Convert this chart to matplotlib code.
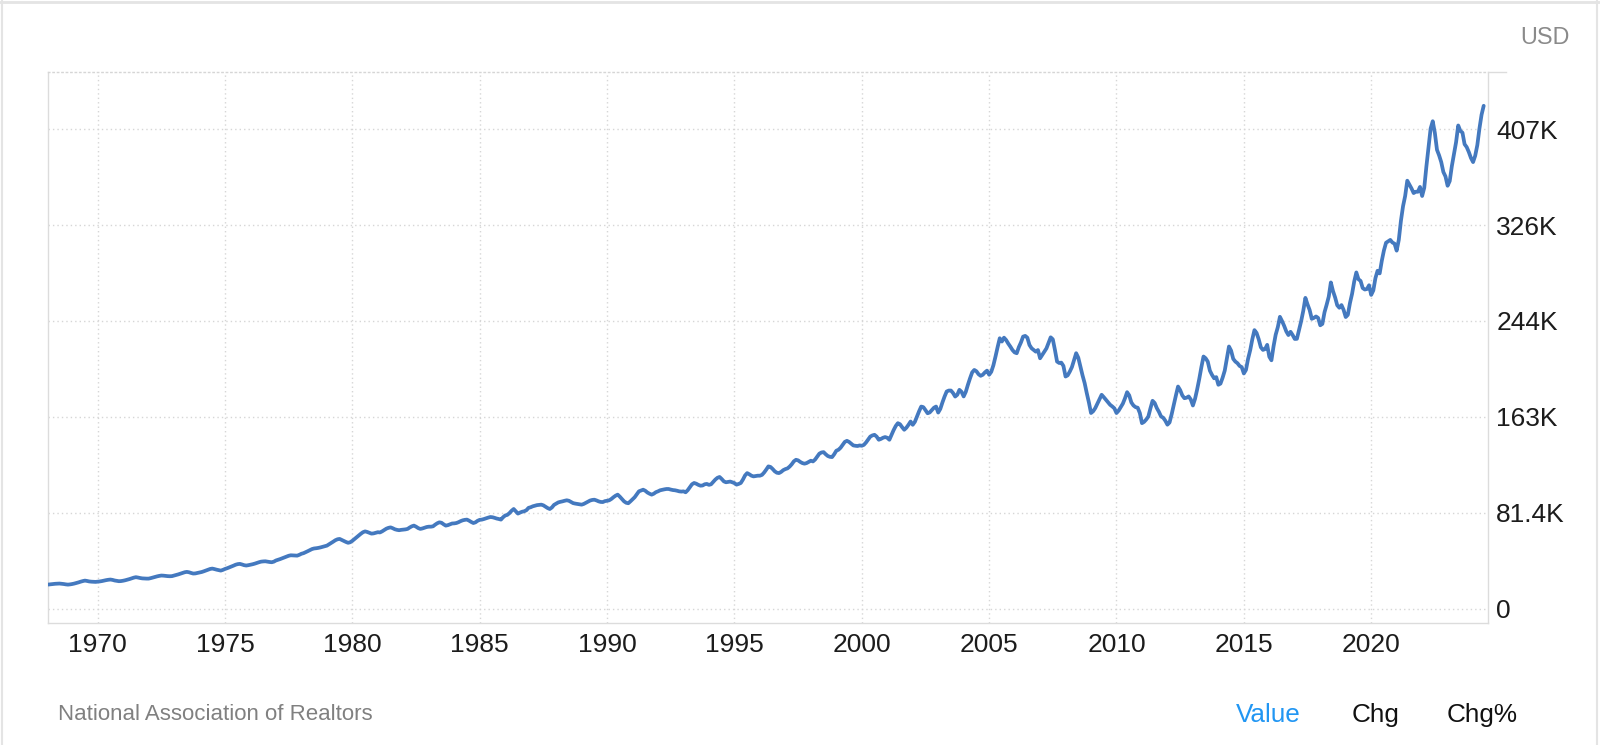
import numpy as np
import matplotlib
matplotlib.use("Agg")
import matplotlib.pyplot as plt
from matplotlib.lines import Line2D

# ---------------- data (median existing-home price, thousands USD, monthly from Jan 1968) ----------------
start_year = 1968

prices_1968_1979 = [
    20.3, 20.4, 20.6, 20.8, 21.0, 21.1, 21.2, 21.0, 20.8, 20.5, 20.3, 20.5,
    20.8, 21.2, 21.7, 22.2, 22.8, 23.3, 23.7, 23.4, 23.0, 22.8, 22.7, 22.6,
    22.8, 23.0, 23.3, 23.7, 24.1, 24.4, 24.6, 24.3, 23.8, 23.5, 23.2, 23.3,
    23.6, 24.0, 24.5, 25.0, 25.6, 26.2, 26.6, 26.3, 25.9, 25.6, 25.5, 25.4,
    25.4, 25.8, 26.3, 26.8, 27.3, 27.7, 28.0, 27.9, 27.7, 27.5, 27.4, 27.5,
    28.0, 28.5, 29.0, 29.6, 30.2, 30.8, 31.1, 30.8, 30.2, 29.7, 29.8, 30.2,
    30.6, 31.0, 31.6, 32.3, 33.0, 33.6, 33.9, 33.5, 33.0, 32.6, 32.2, 32.8,
    33.6, 34.2, 34.9, 35.6, 36.4, 37.2, 37.7, 37.9, 37.4, 36.8, 36.5, 36.8,
    37.2, 37.6, 38.1, 38.7, 39.3, 39.8, 40.0, 40.1, 39.8, 39.5, 39.3, 39.8,
    40.8, 41.4, 42.0, 42.7, 43.4, 44.1, 44.8, 45.2, 45.1, 45.0, 44.9, 45.6,
    46.5, 47.0, 47.8, 48.7, 49.6, 50.5, 51.0, 51.2, 51.5, 51.9, 52.4, 52.9,
    53.4, 54.5, 55.6, 56.8, 58.0, 58.8, 59.1, 58.2, 57.2, 56.5, 55.8, 56.3,
]
prices_1980_1989 = [
    57.5, 59.0, 60.5, 62.0, 63.5, 64.8, 65.5, 65.0, 64.3, 63.6, 63.8, 64.3,
    64.8, 64.6, 65.5, 66.6, 67.8, 68.5, 68.9, 68.2, 67.3, 66.8, 66.5, 66.8,
    67.0, 67.2, 67.6, 68.8, 69.8, 70.4, 69.5, 68.3, 67.6, 68.0, 68.6, 69.2,
    69.5, 69.5, 69.8, 71.2, 72.4, 73.2, 72.8, 71.5, 70.4, 70.8, 71.5, 72.2,
    72.3, 72.6, 73.3, 74.2, 74.9, 75.3, 75.5, 74.6, 73.5, 72.6, 73.2, 74.5,
    75.3, 75.5, 76.0, 76.6, 77.2, 77.7, 77.5, 77.0, 76.4, 76.0, 75.5, 77.5,
    79.0, 79.5, 81.0, 83.0, 84.5, 82.5, 80.6, 81.5, 82.2, 82.6, 83.5, 85.5,
    86.0, 86.8, 87.3, 87.8, 88.0, 88.2, 87.6, 86.5, 85.3, 84.5, 85.8, 88.0,
    89.0, 90.1, 90.6, 91.0, 91.5, 91.9, 91.5, 90.5, 89.5, 89.1, 88.8, 88.5,
    88.2, 88.8, 89.8, 90.8, 91.7, 92.2, 92.4, 91.8, 91.0, 90.5, 90.4, 91.2,
]
prices_1990_1999 = [
    91.5, 91.9, 93.0, 94.5, 95.8, 96.7, 95.0, 93.0, 91.0, 89.8, 89.4, 91.0,
    92.8, 94.5, 97.0, 99.5, 100.2, 100.9, 100.0, 98.5, 97.5, 96.7, 97.5, 98.8,
    99.5, 100.4, 100.8, 101.2, 101.5, 101.5, 101.0, 100.6, 100.4, 100.0, 99.5, 99.3,
    99.5, 98.7, 100.5, 103.0, 105.5, 106.6, 106.0, 105.0, 104.3, 104.5, 105.5, 105.8,
    105.0, 105.5, 107.5, 109.5, 111.0, 111.7, 110.0, 108.0, 107.2, 107.5, 107.8, 107.2,
    106.5, 105.2, 105.8, 106.6, 109.5, 113.0, 115.0, 114.0, 112.8, 112.2, 112.5, 112.8,
    112.8, 113.5, 115.5, 118.0, 120.7, 120.2, 118.5, 116.5, 115.3, 115.0, 116.0, 117.5,
    118.4, 119.0, 120.5, 122.5, 125.0, 126.3, 125.8, 124.5, 123.5, 123.0, 123.5, 124.5,
    125.5, 124.9, 126.5, 129.0, 131.5, 132.5, 132.8, 131.0, 129.5, 128.8, 128.6, 131.0,
    134.0, 134.8, 136.5, 139.0, 141.5, 142.4, 141.5, 140.0, 138.5, 138.2, 138.0, 138.5,
]
prices_2000_2009 = [
    138.2, 139.0, 141.0, 143.5, 146.0, 147.0, 147.5, 146.0, 143.3, 144.0, 145.0, 145.6,
    145.0, 143.3, 147.5, 151.5, 155.0, 157.4, 156.5, 154.0, 151.8, 153.5, 156.0, 158.8,
    156.0, 158.5, 163.0, 167.5, 171.5, 171.0, 168.5, 165.8, 166.5, 168.5, 170.5, 171.5,
    166.4, 169.5, 175.0, 180.0, 184.3, 185.1, 185.1, 183.0, 180.0, 181.5, 185.7, 184.0,
    180.1, 184.0, 190.0, 195.5, 200.5, 202.6, 201.5, 199.0, 197.6, 198.5, 200.5, 202.0,
    198.5, 201.0, 206.5, 214.0, 222.0, 229.5, 226.7, 230.0, 228.0, 225.0, 222.4, 219.5,
    217.5, 216.8, 222.0, 226.0, 230.9, 231.5, 230.0, 223.8, 221.0, 219.6, 218.1, 219.5,
    212.5, 215.3, 218.0, 220.9, 225.5, 230.3, 228.6, 219.6, 209.7, 208.5, 208.8, 206.0,
    197.0, 198.0, 201.2, 205.0, 211.0, 216.8, 213.0, 205.5, 198.0, 191.4, 182.9, 175.0,
    166.0, 167.5, 170.2, 174.0, 178.0, 181.5, 179.5, 177.3, 175.0, 173.0, 171.6, 170.0,
]
prices_2010_2019 = [
    166.0, 168.0, 171.0, 174.0, 178.5, 183.7, 181.0, 175.0, 172.4, 171.0, 170.5, 166.0,
    157.4, 158.5, 160.5, 163.0, 170.0, 176.4, 174.5, 170.2, 167.0, 163.1, 162.0, 159.5,
    156.1, 158.0, 165.0, 173.0, 181.0, 188.5, 185.5, 181.0, 178.6, 179.0, 180.1, 177.5,
    172.4, 178.0, 186.0, 195.0, 205.0, 214.0, 212.5, 209.7, 202.0, 198.4, 195.5, 196.5,
    190.0, 191.0, 196.0, 202.0, 212.0, 222.5, 219.0, 212.0, 209.7, 208.3, 206.0, 205.0,
    199.6, 202.6, 212.1, 219.4, 228.7, 236.4, 234.0, 228.7, 221.9, 219.6, 220.3, 223.9,
    213.8, 210.8, 222.7, 232.5, 238.9, 247.7, 244.1, 240.0, 235.3, 232.2, 235.0, 232.2,
    228.9, 229.0, 236.5, 244.0, 252.8, 263.8, 258.3, 253.5, 246.0, 246.8, 248.0, 246.8,
    240.5, 241.7, 251.5, 257.9, 264.8, 276.9, 269.6, 264.2, 257.5, 255.4, 257.7, 253.6,
    247.5, 249.4, 259.4, 267.3, 277.7, 285.4, 279.6, 278.2, 272.1, 270.9, 271.3, 274.5,
]
prices_2020_2024 = [
    266.3, 270.1, 280.6, 286.8, 284.6, 295.3, 304.1, 310.6, 311.8, 313.0, 310.8, 309.8,
    303.9, 313.0, 329.1, 341.6, 350.3, 363.3, 359.9, 356.7, 352.8, 353.9, 353.9, 358.0,
    350.3, 357.3, 375.3, 391.2, 407.6, 413.8, 403.8, 389.5, 384.8, 379.1, 370.7, 366.9,
    359.0, 363.0, 375.7, 386.1, 396.1, 410.2, 405.6, 404.1, 394.3, 391.8, 387.6, 382.6,
    379.1, 384.5, 393.5, 407.6, 419.3, 426.9,
]

y_tick_values = [0, 81.4, 162.8, 244.2, 325.6, 407.0]
y_tick_labels = ["0", "81.4K", "163K", "244K", "326K", "407K"]
x_tick_years = [1970, 1975, 1980, 1985, 1990, 1995, 2000, 2005, 2010, 2015, 2020]
x_tick_labels = [str(y) for y in x_tick_years]

unit_label = "USD"
source_label = "National Association of Realtors"
tab_labels = ["Value", "Chg", "Chg%"]

# ---------------- build series ----------------
values = np.array(prices_1968_1979 + prices_1980_1989 + prices_1990_1999
                  + prices_2000_2009 + prices_2010_2019 + prices_2020_2024)
months = start_year + np.arange(len(values)) / 12.0

# ---------------- figure ----------------
plt.rcParams['font.family'] = ['Liberation Sans', 'DejaVu Sans']
W, H = 1600, 745
fig = plt.figure(figsize=(W / 100, H / 100), dpi=100)
fig.patch.set_facecolor('white')

ax = fig.add_axes([48 / W, 1 - 623 / H, (1488 - 48) / W, (623 - 72) / H])
ax.set_facecolor('white')

line_color = '#4479bf'
ax.plot(months, values, color=line_color, lw=2.7, solid_joinstyle='round',
        solid_capstyle='round', zorder=3)

ax.set_xlim(1968.05, 2024.586)
ax.set_ylim(-12.3, 455.6)

grid_color = '#d6d6d6'
dot = (0, (1, 2.2))
ax.set_xticks(x_tick_years)
ax.set_xticklabels(x_tick_labels)
ax.set_yticks(y_tick_values)
ax.set_yticklabels(y_tick_labels)
ax.yaxis.tick_right()
ax.grid(True, color=grid_color, linestyle=dot, linewidth=1.0, zorder=0)

ax.tick_params(axis='x', length=0, pad=7.5, labelsize=19, labelcolor='#1c1c1c')
ax.tick_params(axis='y', length=0, pad=6, labelsize=19, labelcolor='#1c1c1c')
for lab in ax.get_yticklabels():
    lab.set_horizontalalignment('left')

spine_color = '#dcdcdc'
for s in ['left', 'bottom', 'right']:
    ax.spines[s].set_color(spine_color)
    ax.spines[s].set_linewidth(1.0)
ax.spines['top'].set_color(grid_color)
ax.spines['top'].set_linestyle(dot)
ax.spines['top'].set_linewidth(1.0)

# short solid stub to the right of the axis top
ax.add_line(Line2D([1.0, 1.0125], [1.0, 1.0], transform=ax.transAxes,
                   color=spine_color, lw=1.0, clip_on=False))

# ---------------- texts ----------------
fig.text(1545 / W, 1 - 44 / H, unit_label, ha='center', va='baseline',
         fontsize=16.8, color='#8a8a8a')
fig.text(58 / W, 1 - 720 / H, source_label, ha='left', va='baseline',
         fontsize=16, color='#808080')
tab_x = [1236, 1352, 1447]
tab_colors = ['#2196f3', '#111111', '#111111']
for lbl, xx, cc in zip(tab_labels, tab_x, tab_colors):
    fig.text(xx / W, 1 - 722.3 / H, lbl, ha='left', va='baseline',
             fontsize=18.8, color=cc)

# outer frame (left, top, right)
frame_c = '#e4e4e4'
fig.add_artist(Line2D([1.5 / W, 1.5 / W], [0, 1], transform=fig.transFigure, color=frame_c, lw=1.5))
fig.add_artist(Line2D([0, 1], [1 - 1.5 / H, 1 - 1.5 / H], transform=fig.transFigure, color=frame_c, lw=2))
fig.add_artist(Line2D([1 - 3.3 / W, 1 - 3.3 / W], [0, 1], transform=fig.transFigure, color=frame_c, lw=1.5))

fig.savefig('out.png', dpi=100, facecolor='white')
